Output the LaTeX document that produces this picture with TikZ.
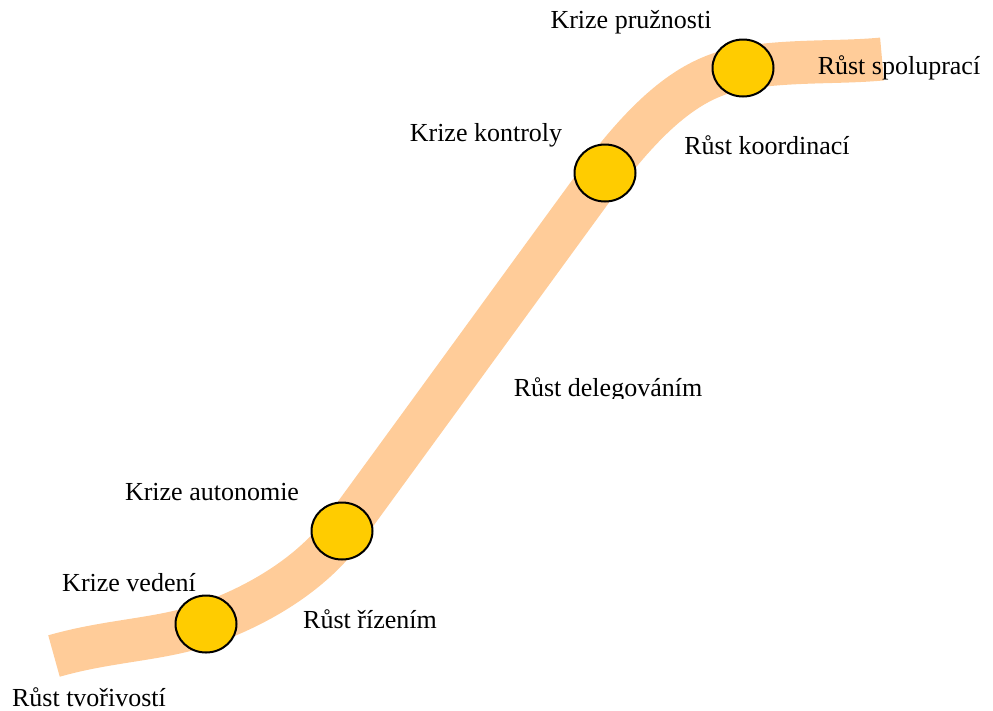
\documentclass[tikz,border=0pt]{standalone}
\usepackage{fontspec}
\usetikzlibrary{shapes.geometric}
\setmainfont{Liberation Serif}
\definecolor{band}{RGB}{255,204,153}
\definecolor{crisis}{RGB}{255,204,0}
\begin{document}
\begin{tikzpicture}[x=1pt,y=-1pt,
  stage/.style={draw=black,line width=2pt,fill=crisis,ellipse,minimum width=61pt,minimum height=57pt,inner sep=0pt},
  lbl/.style={font=\fontsize{26}{30}\selectfont,inner sep=0pt,anchor=center}]
\useasboundingbox (0,0) rectangle (993,710);
% the growth curve
\draw[band,line width=43pt,line cap=butt,line join=round]
  (54,656) .. controls (110,640) and (160,640) .. (206,624)
  .. controls (260,605) and (312,573) .. (343,531)
  .. controls (430,412) and (520,288) .. (604,173)
  .. controls (660,100) and (700,75) .. (743,68)
  .. controls (790,60) and (840,63) .. (882,59);
% crisis points
\node[stage] (c1) at (206,624) {};
\node[stage] (c2) at (342,531) {};
\node[stage] (c3) at (605,173) {};
\node[stage] (c4) at (743,68) {};
% labels
\node[lbl] (l1) at (631,22) {Krize pružnosti};
\node[lbl] (l2) at (899,68) {Růst spoluprací};
\node[lbl] (l3) at (486,135) {Krize kontroly};
\node[lbl] (l4) at (767,145) {Růst koordinací};
\begin{scope}
  \clip (480,360) rectangle (740,398);
  \node[lbl] (l5) at (608,390) {Růst delegováním};
\end{scope}
\node[lbl] (l6) at (212,492) {Krize autonomie};
\node[lbl] (l7) at (129,583) {Krize vedení};
\node[lbl] (l8) at (370,619) {Růst řízením};
\node[lbl] (l9) at (89,697) {Růst tvořivostí};
\end{tikzpicture}
\end{document}
